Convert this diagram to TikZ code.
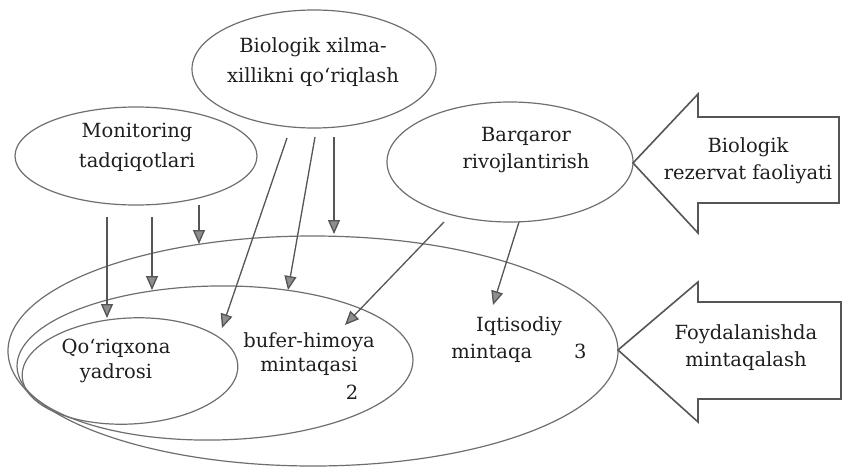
\documentclass[tikz,border=0pt]{standalone}
\usepackage{fontspec}
\setmainfont{DejaVu Serif}
\usetikzlibrary{shapes.geometric,arrows.meta}
\definecolor{ink}{HTML}{1E1E1E}
\definecolor{lnc}{HTML}{6E6E6E}
\definecolor{arc}{HTML}{555555}
\definecolor{headfill}{HTML}{8E8E8E}
\begin{document}
\begin{tikzpicture}[x=1pt,y=-1pt,
  oval/.style={draw=lnc, line width=1.2pt, ellipse, inner sep=0pt},
  lbl/.style={text=ink, align=center, inner sep=0pt, font=\fontsize{19.5}{27}\selectfont},
  lblwide/.style={lbl, font=\fontsize{19.5}{30}\selectfont},
  lbltight/.style={lbl, font=\fontsize{19.5}{24.5}\selectfont},
  arr/.style={draw=arc, line width=1.3pt, -{Triangle[length=14pt,width=12pt,fill=headfill]}},
  bigarrow/.style={draw=arc, line width=1.6pt, line join=miter}
]
\useasboundingbox (0,0) rectangle (842,474);

% ellipses
\node[oval, minimum width=244pt, minimum height=118pt] (bio) at (314,69) {};
\node[oval, minimum width=242pt, minimum height=98pt] (mon) at (136,156) {};
\node[oval, minimum width=246pt, minimum height=120pt] (bar) at (510,162) {};
\node[oval, minimum width=610pt, minimum height=230pt] (zthree) at (313,351) {};
\node[oval, minimum width=396pt, minimum height=154pt, rotate=1] (ztwo) at (215,363) {};
\node[oval, minimum width=216pt, minimum height=106pt, rotate=3] (zone) at (130,371) {};

% labels
\node[lblwide] (biot) at (313,62) {Biologik xilma-\\xillikni qo‘riqlash};
\node[lblwide] (mont) at (137,147) {Monitoring\\tadqiqotlari};
\node[lbl] (bart) at (526,150) {Barqaror\\rivojlantirish};
\node[lbltight] (coret) at (116,361) {Qo‘riqxona\\yadrosi};
\node[lbltight] (buft) at (309,354) {bufer-himoya\\mintaqasi};
\node[lbl] (two) at (352,392) {2};
\node[lbl] (ecot) at (519,340) {Iqtisodiy\\mintaqa\hspace{42pt}3};

% big arrows
\coordinate (tipa) at (633,163);
\coordinate (tipb) at (618,350);
\draw[bigarrow] (tipa) -- (698,94) -- (698,117) -- (839,117) -- (839,203) -- (698,203) -- (698,233) -- cycle;
\draw[bigarrow] (tipb) -- (698,282) -- (698,302) -- (841,302) -- (841,399) -- (698,399) -- (698,422) -- cycle;
\node[lbl] (rezt) at (748,161) {Biologik\\rezervat faoliyati};
\node[lbl] (foyt) at (746,348) {Foydalanishda\\mintaqalash};

% connector end points
\coordinate (m1s) at (107,217); \coordinate (m1e) at (107,318);
\coordinate (m2s) at (152,217); \coordinate (m2e) at (152,290);
\coordinate (m3s) at (199,205); \coordinate (m3e) at (199,244);
\coordinate (b1s) at (287,138); \coordinate (b1e) at (222,328);
\coordinate (b2s) at (315,137); \coordinate (b2e) at (288,290);
\coordinate (b3s) at (334,137); \coordinate (b3e) at (334,234);
\coordinate (r1s) at (444,222); \coordinate (r1e) at (345,325);
\coordinate (r2s) at (519,222); \coordinate (r2e) at (493,305);

\draw[arr] (m1s) -- (m1e);
\draw[arr] (m2s) -- (m2e);
\draw[arr] (m3s) -- (m3e);
\draw[arr] (b1s) -- (b1e);
\draw[arr] (b2s) -- (b2e);
\draw[arr] (b3s) -- (b3e);
\draw[arr] (r1s) -- (r1e);
\draw[arr] (r2s) -- (r2e);
\end{tikzpicture}
\end{document}
